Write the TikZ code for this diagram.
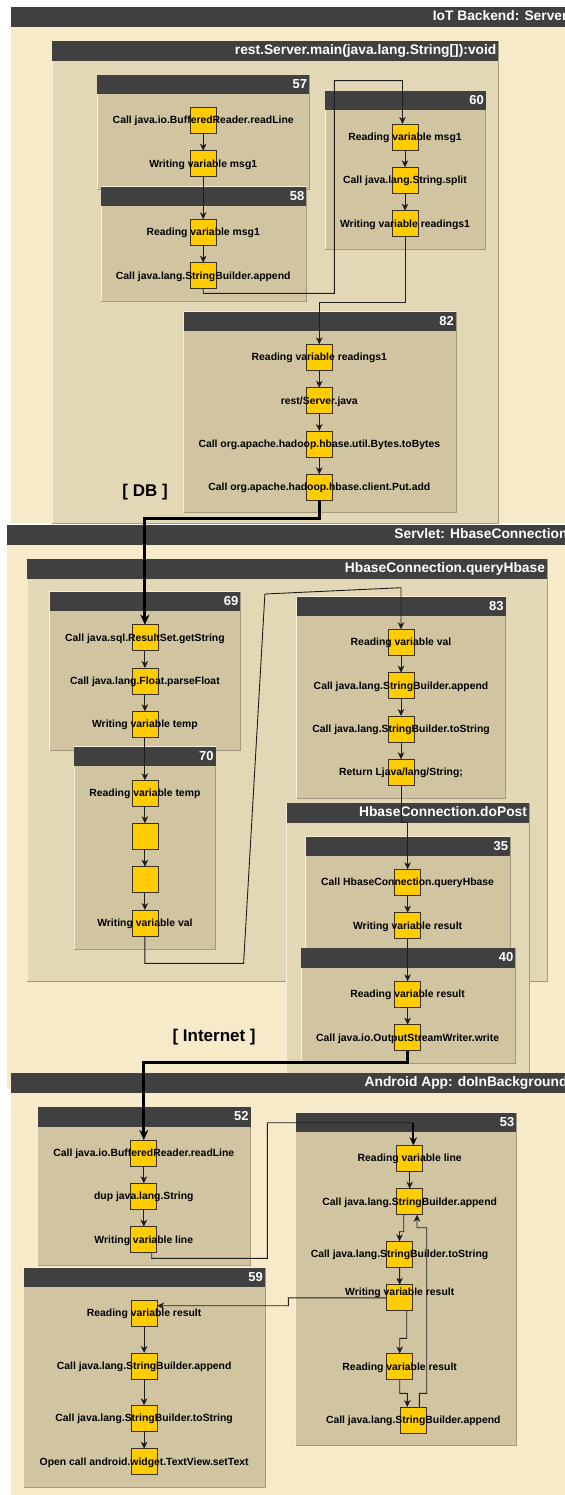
\documentclass[tikz,border=0pt]{standalone}
\usepackage{fontspec}
\setmainfont{Liberation Sans}
\usetikzlibrary{arrows.meta}

\definecolor{secbg}{HTML}{F7EAC9}
\definecolor{methodbg}{HTML}{E3D8B5}
\definecolor{blockbg}{HTML}{D1C5A1}
\definecolor{hdrgray}{HTML}{404040}
\definecolor{opyellow}{HTML}{FFCC00}
\definecolor{opedge}{HTML}{3A3020}
\definecolor{rimlight}{HTML}{F4EEDB}
\definecolor{rimdark}{HTML}{A39A80}
\definecolor{edgecol}{HTML}{1E1E1E}

% a titled panel: dark header strip with right-aligned white title
\newcommand{\framedpanel}[8]{%
  \fill[#6] (#2,#3) rectangle (#4,#5);
  \draw[rimlight, line width=0.8bp] (#2,#5) -- (#2,#3) -- (#4,#3);
  \draw[rimdark, line width=0.8bp] (#4,#3) -- (#4,#5) -- (#2,#5);
  \fill[hdrgray] (#2,#3) rectangle (#4,#3+19.5);
  \node[#7] (#1) at (#4-1.8,#3+9.75) {#8};
}
% a top-level section band without rim
\newcommand{\sectionpanel}[6]{%
  \fill[secbg] (#2,#3) rectangle (#4,#5);
  \fill[hdrgray] (#2,#3) rectangle (#4,#3+20);
  \node[sectitle] (#1) at (#4-1.8,#3+10) {#6};
}
% one operation: yellow square with its caption laid over it
\newcommand{\op}[5][0]{%
  \node[opbox] (#2) at (#3,#4) {};
  \node[oplabel, yshift=#1bp] (#2-t) at (#2) {#5};
}

\tikzset{
  sectitle/.style={anchor=east, inner sep=0pt, text=white,
    font=\fontsize{13.8bp}{16bp}\selectfont\bfseries, text height=.72em, text depth=0pt},
  methtitle/.style={sectitle},
  blktitle/.style={anchor=east, inner sep=0pt, text=white,
    font=\fontsize{13bp}{15bp}\selectfont\bfseries, text height=.72em, text depth=0pt},
  opbox/.style={draw=opedge, fill=opyellow, line width=0.8bp, minimum size=26bp,
    inner sep=0pt, outer sep=0pt},
  oplabel/.style={inner sep=0pt, font=\fontsize{10.4bp}{12bp}\selectfont\bfseries,
    text height=.72em, text depth=0pt},
  tierlabel/.style={inner sep=0pt, font=\fontsize{17bp}{20bp}\selectfont\bfseries,
    text height=.72em, text depth=0pt},
  flow/.style={draw=edgecol, line width=0.9bp,
    -{Stealth[length=7bp,width=6.5bp,inset=2bp]}},
  plainflow/.style={draw=edgecol, line width=0.9bp},
  heavyflow/.style={draw=black, line width=3bp,
    -{Stealth[length=10bp,width=9bp,inset=3bp]}},
}

\begin{document}
\begin{tikzpicture}[x=1bp,y=-1bp]
\useasboundingbox (0,0) rectangle (565,1495);
\clip (0,0) rectangle (565,1495);
\fill[white] (0,0) rectangle (565,1495);

% ---------------- IoT Backend ----------------
\sectionpanel{secA}{11}{7.3}{569.5}{523}{IoT Backend: Server}
\framedpanel{mainM}{52}{41.3}{498.4}{523}{methodbg}{methtitle}{rest.Server.main(java.lang.String[]):void}
\framedpanel{blk57}{97.3}{75}{309.2}{189.3}{blockbg}{blktitle}{57}
\framedpanel{blk58}{100.9}{186.7}{306.3}{301.7}{blockbg}{blktitle}{58}
\framedpanel{blk60}{325}{91}{485.8}{249.3}{blockbg}{blktitle}{60}
\framedpanel{blk82}{183.8}{311.7}{455.9}{512.7}{blockbg}{blktitle}{82}

\op{a57}{203.2}{120.3}{Call java.io.BufferedReader.readLine}
\op{b57}{203.2}{163.7}{Writing variable msg1}
\op{a58}{203.2}{232.3}{Reading variable msg1}
\op{b58}{203.2}{275.7}{Call java.lang.StringBuilder.append}
\op{a60}{405}{137}{Reading variable msg1}
\op{b60}{405}{180.3}{Call java.lang.String.split}
\op{c60}{405}{223.7}{Writing variable readings1}
\op{a82}{319.3}{357.3}{Reading variable readings1}
\op{b82}{319.3}{400.7}{rest/Server.java}
\op{c82}{319.3}{444}{Call org.apache.hadoop.hbase.util.Bytes.toBytes}
\op{d82}{319.3}{487.3}{Call org.apache.hadoop.hbase.client.Put.add}

\node[tierlabel] (db) at (145.1,493.3) {[ DB ]};

% ---------------- Servlet ----------------
\sectionpanel{secB}{7.3}{525}{569.5}{1089}{Servlet: HbaseConnection}
\framedpanel{queryM}{27}{559}{547}{981.7}{methodbg}{methtitle}{HbaseConnection.queryHbase}
\framedpanel{blk69}{49.7}{591.7}{240.4}{750.7}{blockbg}{blktitle}{69}
\framedpanel{blk70}{73.9}{746.7}{215.5}{949}{blockbg}{blktitle}{70}
\framedpanel{blk83}{296.6}{596.7}{505.6}{798.3}{blockbg}{blktitle}{83}
\framedpanel{postM}{286.5}{803.3}{529}{1073}{methodbg}{methtitle}{HbaseConnection.doPost}
\framedpanel{blk35}{305.6}{836.7}{510}{950}{blockbg}{blktitle}{35}
\framedpanel{blk40}{301}{948.3}{515.3}{1063.3}{blockbg}{blktitle}{40}

\op{a69}{144.9}{637.7}{Call java.sql.ResultSet.getString}
\op{b69}{144.9}{681}{Call java.lang.Float.parseFloat}
\op{c69}{144.9}{724.3}{Writing variable temp}
\op{a70}{144.9}{793.3}{Reading variable temp}
\op{b70}{144.9}{836.3}{}
\op{c70}{144.9}{879.7}{}
\op{d70}{144.9}{923}{Writing variable val}
\op{a83}{401}{642.3}{Reading variable val}
\op{b83}{401}{685.7}{Call java.lang.StringBuilder.append}
\op{c83}{401}{729}{Call java.lang.StringBuilder.toString}
\op{d83}{401}{772.3}{Return Ljava/lang/String;}
\op{a35}{407.6}{882.3}{Call HbaseConnection.queryHbase}
\op{b35}{407.6}{925.7}{Writing variable result}
\op{a40}{407.6}{994.3}{Reading variable result}
\op{b40}{407.6}{1037.7}{Call java.io.OutputStreamWriter.write}

\node[tierlabel] (net) at (214.1,1037.7) {[ Internet ]};

% ---------------- Android App ----------------
\sectionpanel{secC}{10.7}{1073.3}{569.5}{1500}{Android App: doInBackground}
\framedpanel{blk52}{37.8}{1107}{250.5}{1265}{blockbg}{blktitle}{52}
\framedpanel{blk53}{295.5}{1112.7}{516.4}{1445}{blockbg}{blktitle}{53}
\framedpanel{blk59}{23.8}{1267.7}{264.9}{1487.3}{blockbg}{blktitle}{59}

\op{a52}{143.8}{1153}{Call java.io.BufferedReader.readLine}
\op{b52}{143.8}{1196.3}{dup java.lang.String}
\op{c52}{143.8}{1239.7}{Writing variable line}
\op{a53}{409.7}{1158.3}{Reading variable line}
\op{b53}{409.7}{1201.7}{Call java.lang.StringBuilder.append}
\op{c53}{399.5}{1254.3}{Call java.lang.StringBuilder.toString}
\op[6]{d53}{399.7}{1297.8}{Writing variable result}
\op{e53}{399.7}{1366.5}{Reading variable result}
\op{f53}{413.3}{1420}{Call java.lang.StringBuilder.append}
\op{a59}{144.1}{1313.3}{Reading variable result}
\op{b59}{144.1}{1366}{Call java.lang.StringBuilder.append}
\op{c59}{144.1}{1418.3}{Call java.lang.StringBuilder.toString}
\op{d59}{144.1}{1461.7}{Open call android.widget.TextView.setText}

% ---------------- data flow ----------------
\draw[flow] (a57) -- (b57);
\draw[flow] (b57) -- (a58);
\draw[flow] (a58) -- (b58);
\draw[flow] (b58.south) -- (203.2,293.3) -- (334.4,293.3) -- (334.4,80.7)
  -- (402.5,80.7) -- ([xshift=-2.5bp]a60.north);
\draw[flow] (a60) -- (b60);
\draw[flow] (b60) -- (c60);
\draw[flow] (c60.south) -- (405,302.7) -- (319.3,302.7) -- (a82.north);
\draw[flow] (a82) -- (b82);
\draw[flow] (b82) -- (c82);
\draw[flow] (c82) -- (d82);
\draw[heavyflow] (d82.south) -- (319.3,518.3) -- (144.9,518.3) -- (a69.north);

\draw[flow] (a69) -- (b69);
\draw[flow] (b69) -- (c69);
\draw[flow] (c69) -- (a70);
\draw[flow] (a70) -- (b70);
\draw[flow] (b70) -- (c70);
\draw[flow] (c70) -- (d70);
\draw[flow] (d70.south) -- (144.9,963.3) -- (243.6,963.3) -- (264.9,594)
  -- (401,587.7) -- (a83.north);
\draw[flow] (a83) -- (b83);
\draw[flow] (b83) -- (c83);
\draw[flow] (c83) -- (d83);
\draw[flow] (d83.south) -- (401,822.7) -- (407.6,822.7) -- (a35.north);
\draw[flow] (a35) -- (b35);
\draw[flow] (b35) -- (a40);
\draw[flow] (a40) -- (b40);
\draw[heavyflow] (b40.south) -- (407.6,1062.3) -- (143.8,1062.3) -- (a52.north);

\draw[flow] (a52) -- (b52);
\draw[flow] (b52) -- (c52);
\coordinate (j53) at (413.3,1122.7);
\draw[plainflow] ([xshift=8bp]c52.south) -- (151.7,1258.3) -- (267.4,1258.3)
  -- (267.4,1122.7) -- (j53);
\draw[draw=black, line width=2.2bp, -{Stealth[length=8bp,width=7.5bp,inset=2.5bp]}]
  (j53) -- (j53 |- a53.north);
\draw[flow] (a53) -- (b53);
\draw[flow] ([xshift=-6bp]b53.south) -- (403.7,1231.7) -- (399.5,1231.7) -- (c53.north);
\draw[flow] (c53) -- (d53);
\draw[flow] (d53.west) -- (288.3,1297.8) -- (288.3,1305.7) -- ([yshift=7.6bp]a59.east);
\draw[flow] ([xshift=7bp]d53.south) -- (406.7,1338.3) -- (399.7,1338.3) -- (e53.north);
\draw[flow] (e53.south) -- (399.7,1393.3) -- (407.3,1393.3) -- ([xshift=-6bp]f53.north);
\draw[flow] ([xshift=6bp]f53.north) -- (419.3,1393.3) -- (426.7,1393.3) -- (426.7,1227.7)
  -- (417,1227.7) -- ([xshift=7.3bp]b53.south);
\draw[flow] (a59) -- (b59);
\draw[flow] (b59) -- (c59);
\draw[flow] (c59) -- (d59);
\end{tikzpicture}
\end{document}
